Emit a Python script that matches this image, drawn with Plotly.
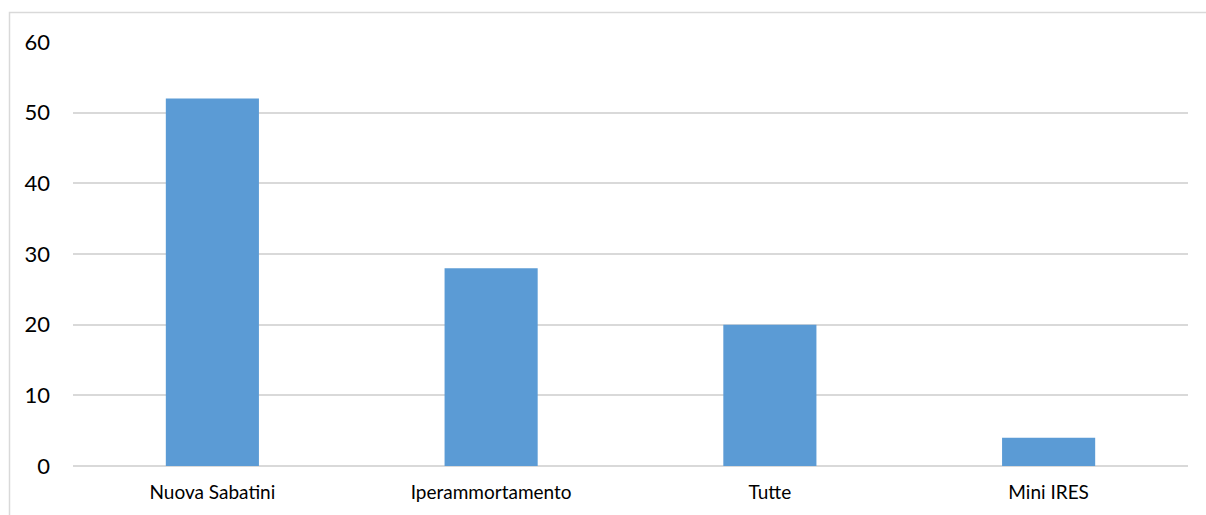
import plotly.graph_objects as go

categories = ["Nuova Sabatini", "Iperammortamento", "Tutte", "Mini IRES"]
values = [52, 28, 20, 4]
y_ticks = [0, 10, 20, 30, 40, 50, 60]

W, H = 1206, 515
L, R, T, B = 73, 18, 42, 49
pw = W - L - R
ph = H - T - B

def px_to_paper_x(px):
    return (px - L) / pw

def px_to_paper_y(py):
    return (H - B - py) / ph

fig = go.Figure(
    go.Bar(
        x=categories,
        y=values,
        marker=dict(color="#5B9BD5", line=dict(width=0)),
        hoverinfo="x+y",
    )
)

fig.update_layout(
    width=W,
    height=H,
    margin=dict(l=L, r=R, t=T, b=B, autoexpand=False),
    paper_bgcolor="white",
    plot_bgcolor="white",
    bargap=0.666,
    showlegend=False,
    font=dict(family="Lato, 'Open Sans', sans-serif", color="#000000"),
    xaxis=dict(
        showgrid=False,
        showline=False,
        zeroline=False,
        ticks="",
        tickfont=dict(size=19),
        ticklabelstandoff=13,
    ),
    yaxis=dict(
        range=[0, 60],
        tickvals=y_ticks,
        showgrid=True,
        gridcolor="#D9D9D9",
        gridwidth=1.6,
        zeroline=True,
        zerolinecolor="#D9D9D9",
        zerolinewidth=1.6,
        showline=False,
        ticks="",
        tickfont=dict(size=22),
        ticklabelstandoff=22,
    ),
    shapes=[
        dict(
            type="rect",
            xref="paper",
            yref="paper",
            x0=px_to_paper_x(9.5),
            x1=px_to_paper_x(1230),
            y0=px_to_paper_y(540),
            y1=px_to_paper_y(12.5),
            line=dict(color="#D9D9D9", width=1.5),
            fillcolor="rgba(0,0,0,0)",
            layer="below",
        )
    ],
)

fig.write_html("out.html")
